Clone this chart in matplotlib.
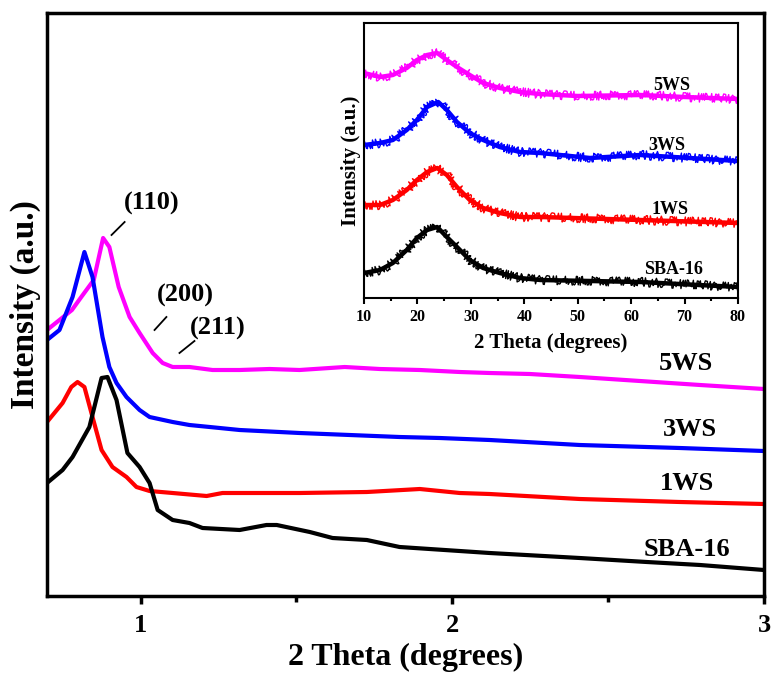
import matplotlib
matplotlib.use("Agg")
import matplotlib.pyplot as plt
from matplotlib.ticker import MultipleLocator

plt.rcParams["font.family"] = ["Liberation Serif", "DejaVu Serif"]
plt.rcParams["font.weight"] = "bold"

# ---- low-angle XRD (main panel) ----
theta_5ws = [0.70, 0.74, 0.78, 0.81, 0.85, 0.88, 0.90, 0.93, 0.965, 0.997, 1.039, 1.071,
             1.103, 1.157, 1.231, 1.318, 1.414, 1.51, 1.655, 1.767, 1.896, 2.024, 2.12,
             2.249, 2.409, 2.602, 2.795, 3.0]
int_5ws = [266, 276, 286, 299, 316, 358, 349, 309, 279, 263, 243, 233,
           229, 229, 226, 226, 227, 226, 229, 227, 226, 224, 223,
           222, 219, 215, 211, 207]

theta_3ws = [0.70, 0.74, 0.782, 0.82, 0.846, 0.878, 0.90, 0.923, 0.955, 0.997, 1.029, 1.103,
             1.157, 1.222, 1.318, 1.51, 1.671, 1.831, 1.96, 2.12, 2.409, 2.73, 3.0]
int_3ws = [256, 266, 299, 344, 319, 259, 229, 213, 199, 186, 179, 174,
           171, 169, 166, 163, 161, 159, 158, 156, 151, 148, 145]

theta_1ws = [0.70, 0.75, 0.778, 0.798, 0.82, 0.846, 0.875, 0.91, 0.955, 0.987, 1.029, 1.103,
             1.212, 1.263, 1.382, 1.51, 1.726, 1.896, 2.024, 2.12, 2.409, 2.73, 3.0]
int_1ws = [174, 193, 209, 214, 209, 179, 146, 129, 119, 109, 105, 103,
           100, 103, 103, 103, 104, 107, 103, 102, 97, 94, 92]

theta_sba = [0.70, 0.75, 0.782, 0.836, 0.875, 0.894, 0.923, 0.958, 0.997, 1.029, 1.055, 1.103,
             1.157, 1.199, 1.318, 1.404, 1.437, 1.543, 1.616, 1.726, 1.831, 2.12, 2.409,
             2.624, 2.795, 3.0]
int_sba = [113, 126, 139, 169, 218, 219, 196, 143, 129, 113, 86, 76,
           73, 68, 66, 71, 71, 64, 58, 56, 49, 43, 38,
           34, 31, 26]

# ---- wide-angle XRD (inset) ----
wide_5ws_x = [10, 13, 15.4, 18, 19.9, 21.8, 23.7, 25.5, 27.4, 29.8, 32.3, 35.4, 39.2, 42.9, 50, 61.7, 70, 80]
wide_5ws_y = [225, 221, 223, 230, 238, 243, 245, 238, 231, 223, 215, 210, 206, 204, 202, 203, 201, 199]

wide_3ws_x = [10, 13, 15.4, 18, 19.9, 21.8, 23.9, 25.5, 27.4, 29.8, 32.3, 35.4, 39.2, 43, 52.3, 61.7, 71, 80]
wide_3ws_y = [153, 155, 158, 168, 178, 191, 196, 188, 176, 165, 158, 151, 146, 145, 140, 143, 140, 137]

wide_1ws_x = [10, 13, 15.4, 18, 19.9, 21.8, 23.7, 25.5, 27.4, 29.8, 32.3, 35.4, 39.2, 43, 61.7, 80]
wide_1ws_y = [93, 93, 98, 108, 118, 126, 130, 123, 111, 98, 90, 85, 81, 81, 78, 75]

wide_sba_x = [10, 13, 15.4, 18, 19.9, 21.8, 23.7, 25.5, 27.4, 29.8, 32.3, 35.4, 39.2, 43, 61.7, 80]
wide_sba_y = [25, 28, 35, 48, 60, 68, 71, 61, 51, 38, 30, 25, 20, 18, 16, 11]

sample_names = ["5WS", "3WS", "1WS", "SBA-16"]
colors = ["#FF00FF", "#0000FF", "#FF0000", "#000000"]

W, H = 772, 677
fig = plt.figure(figsize=(W / 100, H / 100), dpi=100)


def px_rect(x0, y0, x1, y1):
    return [x0 / W, 1 - y1 / H, (x1 - x0) / W, (y1 - y0) / H]


ax = fig.add_axes(px_rect(47, 13, 764, 596))
main_series = [(theta_5ws, int_5ws), (theta_3ws, int_3ws), (theta_1ws, int_1ws), (theta_sba, int_sba)]
for (x, y), c in zip(main_series, colors):
    ax.plot(x, y, color=c, lw=3.0, solid_joinstyle="round")

ax.set_xlim(0.7, 3.0)
ax.set_ylim(0, 583)
ax.xaxis.set_major_locator(MultipleLocator(1))
ax.xaxis.set_minor_locator(MultipleLocator(0.5))
ax.set_yticks([])
ax.tick_params(axis="x", which="major", direction="out", length=6, width=2.5, labelsize=19, pad=7)
ax.tick_params(axis="x", which="minor", direction="out", length=4, width=2.5)
for s in ax.spines.values():
    s.set_linewidth(2.5)
for lab in ax.get_xticklabels():
    lab.set_fontweight("bold")
ax.set_xlabel("2 Theta (degrees)", fontsize=23, fontweight="bold", labelpad=4)
ax.set_ylabel("Intensity (a.u.)", fontsize=24, fontweight="bold", labelpad=4)

# sample names at the right end of each trace
main_label_pos = [(2.75, 233), (2.762, 166), (2.753, 113), (2.753, 46)]
for name, (lx, ly) in zip(sample_names, main_label_pos):
    ax.text(lx, ly, name, fontsize=19, fontweight="bold", ha="center", va="center")

# reflection indices with short leader lines
reflections = [
    ("(110)", (0.907, 0.949), (361, 374), (1.035, 393)),
    ("(200)", (1.045, 1.083), (266, 279), (1.144, 301)),
    ("(211)", (1.125, 1.173), (243, 255), (1.247, 268)),
]
for label, lx, ly, (tx, ty) in reflections:
    ax.plot(lx, ly, color="black", lw=1.3)
    ax.text(tx, ty, label, fontsize=19, fontweight="bold", ha="center", va="center")

# ---- inset ----
ins = fig.add_axes(px_rect(364, 23, 738, 298))
wide_series = [(wide_5ws_x, wide_5ws_y), (wide_3ws_x, wide_3ws_y),
               (wide_1ws_x, wide_1ws_y), (wide_sba_x, wide_sba_y)]
for (x, y), c in zip(wide_series, colors):
    ins.plot(x, y, color=c, lw=3.2)
    noisy, = ins.plot(x, y, color=c, lw=1.0)
    noisy.set_sketch_params(scale=4.5, length=0.8, randomness=2.0)

ins.set_xlim(10, 80)
ins.set_ylim(0, 275)
ins.xaxis.set_major_locator(MultipleLocator(10))
ins.xaxis.set_minor_locator(MultipleLocator(5))
ins.set_yticks([])
ins.tick_params(axis="x", which="major", direction="out", length=4, width=1.5, labelsize=11.5, pad=4)
ins.tick_params(axis="x", which="minor", direction="out", length=2.5, width=1.5)
for s in ins.spines.values():
    s.set_linewidth(1.5)
for lab in ins.get_xticklabels():
    lab.set_fontweight("bold")
ins.set_xlabel("2 Theta (degrees)", fontsize=15, fontweight="bold", labelpad=6)
ins.set_ylabel("Intensity (a.u.)", fontsize=15, fontweight="bold", labelpad=2)

inset_label_pos = [(67.5, 212), (66.7, 152), (67.3, 88), (68.0, 28)]
for name, (lx, ly) in zip(sample_names, inset_label_pos):
    ins.text(lx, ly, name, fontsize=13, fontweight="bold", ha="center", va="center")

fig.savefig("out.png", dpi=100)
